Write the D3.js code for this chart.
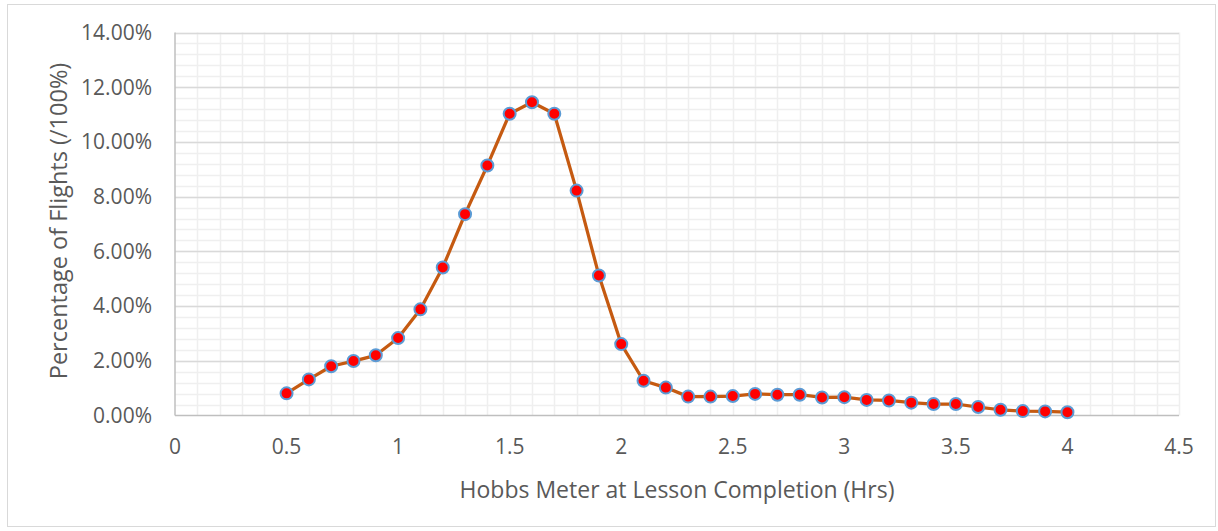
<!DOCTYPE html>
<html>
<head>
<meta charset="utf-8">
<script src="https://cdn.jsdelivr.net/npm/d3@7"></script>
<style>
  html, body { margin: 0; padding: 0; background: #fff; }
  text { font-family: "Open Sans", "Liberation Sans", sans-serif; fill: #595959; }
</style>
</head>
<body>
<svg id="chart" width="1218" height="531"></svg>
<script>
// hours on the meter when the lesson ended
const hours = [0.5, 0.6, 0.7, 0.8, 0.9, 1.0, 1.1, 1.2, 1.3, 1.4, 1.5, 1.6,
  1.7, 1.8, 1.9, 2.0, 2.1, 2.2, 2.3, 2.4, 2.5, 2.6, 2.7, 2.8,
  2.9, 3.0, 3.1, 3.2, 3.3, 3.4, 3.5, 3.6, 3.7, 3.8, 3.9, 4.0];

// share of flights (fraction of 1)
const share = [0.0081, 0.0132, 0.0180, 0.0199, 0.0220, 0.0283, 0.0388, 0.0541, 0.0736, 0.0914, 0.1103, 0.1145,
  0.1103, 0.0822, 0.0512, 0.0261, 0.0127, 0.0102, 0.0069, 0.0069, 0.0071, 0.0079, 0.0076, 0.0076,
  0.0066, 0.0067, 0.0057, 0.0055, 0.0047, 0.0042, 0.0042, 0.0031, 0.0021, 0.0016, 0.0015, 0.0012];

const xTicks = [0, 0.5, 1, 1.5, 2, 2.5, 3, 3.5, 4, 4.5];
const yTicks = [0, 0.02, 0.04, 0.06, 0.08, 0.10, 0.12, 0.14];

const xTitle = "Hobbs Meter at Lesson Completion (Hrs)";
const yTitle = "Percentage of Flights (/100%)";

const svg = d3.select("#chart");
const plot = { left: 175, right: 1179, top: 32.5, bottom: 415.5 };

// outer chart border
svg.append("rect")
  .attr("x", 7.5).attr("y", 4.5)
  .attr("width", 1208).attr("height", 522)
  .attr("fill", "#fff")
  .attr("stroke", "#d9d9d9");

const x = d3.scaleLinear().domain([0, 4.5]).range([plot.left, plot.right]);
const y = d3.scaleLinear().domain([0, 0.14]).range([plot.bottom, plot.top]);

// minor grid, 0.1 hr and 0.4% steps
const g = svg.append("g");
g.selectAll("line.vminor")
  .data(d3.range(1, 46).map(i => i / 10))
  .join("line")
  .attr("x1", d => Math.round(x(d)) + 0.5).attr("x2", d => Math.round(x(d)) + 0.5)
  .attr("y1", plot.top).attr("y2", plot.bottom)
  .attr("stroke", "#efefef").attr("stroke-width", 1.5);

g.selectAll("line.hminor")
  .data(d3.range(1, 36).map(i => i * 0.004))
  .join("line")
  .attr("x1", plot.left).attr("x2", plot.right)
  .attr("y1", d => Math.round(y(d)) + 0.5).attr("y2", d => Math.round(y(d)) + 0.5)
  .attr("stroke", "#efefef").attr("stroke-width", 1.5);

// major horizontal grid
g.selectAll("line.hmajor")
  .data(yTicks.slice(1))
  .join("line")
  .attr("x1", plot.left).attr("x2", plot.right)
  .attr("y1", d => Math.round(y(d)) + 0.5).attr("y2", d => Math.round(y(d)) + 0.5)
  .attr("stroke", "#d9d9d9").attr("stroke-width", 1.5);

// axis lines
svg.append("line")
  .attr("x1", plot.left).attr("x2", plot.right)
  .attr("y1", plot.bottom).attr("y2", plot.bottom)
  .attr("stroke", "#bfbfbf").attr("stroke-width", 1.5);
svg.append("line")
  .attr("x1", plot.left).attr("x2", plot.left)
  .attr("y1", plot.top).attr("y2", plot.bottom)
  .attr("stroke", "#bfbfbf").attr("stroke-width", 1.5);

// tick labels
const pct = d3.format(".2%");
svg.append("g").selectAll("text")
  .data(yTicks)
  .join("text")
  .attr("x", 152).attr("y", d => y(d))
  .attr("dy", "0.35em")
  .attr("text-anchor", "end")
  .style("font-size", "21px")
  .text(d => pct(d));

svg.append("g").selectAll("text")
  .data(xTicks)
  .join("text")
  .attr("x", d => x(d)).attr("y", 447)
  .attr("dy", "0.35em")
  .attr("text-anchor", "middle")
  .style("font-size", "21px")
  .text(d => d);

// axis titles
svg.append("text")
  .attr("x", (plot.left + plot.right) / 2).attr("y", 490)
  .attr("dy", "0.35em")
  .attr("text-anchor", "middle")
  .style("font-size", "23px")
  .text(xTitle);

svg.append("text")
  .attr("transform", `translate(59,${(plot.top + plot.bottom) / 2 - 3}) rotate(-90)`)
  .attr("dy", "0.35em")
  .attr("text-anchor", "middle")
  .style("font-size", "23.5px")
  .text(yTitle);

// series
const pts = hours.map((h, i) => [h, share[i]]);
const line = d3.line()
  .x(d => x(d[0])).y(d => y(d[1]));

svg.append("path")
  .datum(pts)
  .attr("d", line)
  .attr("fill", "none")
  .attr("stroke", "#c55a11")
  .attr("stroke-width", 3.25)
  .attr("stroke-linejoin", "round");

svg.append("g").selectAll("circle")
  .data(pts)
  .join("circle")
  .attr("cx", d => x(d[0])).attr("cy", d => y(d[1]))
  .attr("r", 6)
  .attr("fill", "#ff0000")
  .attr("stroke", "#5b9bd5")
  .attr("stroke-width", 2);
</script>
</body>
</html>
